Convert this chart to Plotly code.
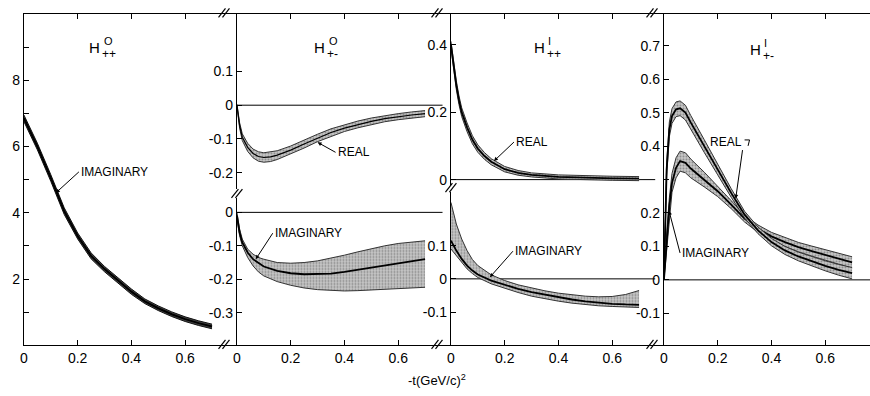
import plotly.graph_objects as go

# ---------------- data ----------------
# Panel 1: H0_{++}  imaginary part
t_p1 = [0, 0.05, 0.1, 0.15, 0.2, 0.25, 0.3, 0.35, 0.4, 0.45, 0.5, 0.55, 0.6, 0.65, 0.7]
h0pp_im = [6.85, 6.0, 5.05, 4.05, 3.3, 2.7, 2.3, 1.95, 1.62, 1.33, 1.12, 0.94, 0.79, 0.67, 0.57]
h0pp_im_err = [0.1, 0.1, 0.1, 0.1, 0.09, 0.09, 0.08, 0.08, 0.08, 0.07, 0.07, 0.07, 0.07, 0.07, 0.07]

# Panel 2 top: H0_{+-} real part
t_p2r = [0, 0.01, 0.02, 0.04, 0.06, 0.08, 0.1, 0.125, 0.15, 0.2, 0.25, 0.3, 0.35, 0.4, 0.45, 0.5, 0.55, 0.6, 0.65, 0.7]
h0pm_re = [0.0, -0.06, -0.095, -0.125, -0.143, -0.152, -0.155, -0.153, -0.148, -0.133, -0.115, -0.097,
           -0.081, -0.068, -0.057, -0.048, -0.04, -0.034, -0.029, -0.025]
h0pm_re_err = [0.003, 0.008, 0.01, 0.012, 0.013, 0.014, 0.014, 0.014, 0.013, 0.012, 0.012, 0.011,
               0.011, 0.01, 0.01, 0.01, 0.009, 0.009, 0.009, 0.009]

# Panel 2 bottom: H0_{+-} imaginary part
t_p2i = [0, 0.01, 0.02, 0.04, 0.06, 0.08, 0.1, 0.15, 0.2, 0.25, 0.3, 0.35, 0.4, 0.45, 0.5, 0.55, 0.6, 0.65, 0.7]
h0pm_im = [-0.01, -0.06, -0.09, -0.12, -0.14, -0.152, -0.162, -0.175, -0.182, -0.185, -0.185, -0.183,
           -0.178, -0.172, -0.166, -0.16, -0.153, -0.146, -0.14]
h0pm_im_hi = [0.0, -0.05, -0.08, -0.11, -0.125, -0.135, -0.14, -0.15, -0.152, -0.15, -0.145, -0.137,
              -0.128, -0.118, -0.108, -0.1, -0.093, -0.088, -0.085]
h0pm_im_lo = [-0.02, -0.07, -0.1, -0.135, -0.16, -0.178, -0.19, -0.207, -0.218, -0.226, -0.231, -0.234,
              -0.235, -0.234, -0.232, -0.23, -0.228, -0.226, -0.224]

# Panel 3 top: H1_{++} real part
t_p3r = [0, 0.01, 0.02, 0.03, 0.04, 0.06, 0.08, 0.1, 0.125, 0.15, 0.2, 0.25, 0.3, 0.4, 0.5, 0.6, 0.7]
h1pp_re = [0.40, 0.335, 0.28, 0.235, 0.20, 0.155, 0.118, 0.092, 0.07, 0.053, 0.031, 0.02, 0.014,
           0.008, 0.005, 0.004, 0.003]
h1pp_re_err = [0.01, 0.012, 0.013, 0.013, 0.013, 0.013, 0.012, 0.011, 0.01, 0.009, 0.008, 0.007,
               0.006, 0.006, 0.006, 0.006, 0.006]

# Panel 3 bottom: H1_{++} imaginary part
t_p3i = [0, 0.02, 0.04, 0.06, 0.08, 0.1, 0.15, 0.2, 0.25, 0.3, 0.35, 0.4, 0.45, 0.5, 0.55, 0.6, 0.65, 0.7]
h1pp_im = [0.115, 0.085, 0.06, 0.04, 0.025, 0.013, -0.005, -0.018, -0.03, -0.04, -0.048, -0.055,
           -0.062, -0.068, -0.072, -0.075, -0.077, -0.078]
h1pp_im_hi = [0.23, 0.165, 0.12, 0.085, 0.058, 0.04, 0.012, -0.005, -0.018, -0.028, -0.036, -0.043,
              -0.048, -0.052, -0.054, -0.053, -0.047, -0.035]
h1pp_im_lo = [0.09, 0.07, 0.048, 0.03, 0.016, 0.004, -0.015, -0.029, -0.041, -0.052, -0.06, -0.067,
              -0.073, -0.078, -0.081, -0.083, -0.085, -0.086]

# Panel 4: H1_{+-} real and imaginary parts
t_p4 = [0, 0.005, 0.01, 0.02, 0.03, 0.045, 0.06, 0.08, 0.1, 0.15, 0.2, 0.25, 0.3, 0.35, 0.4, 0.45,
        0.5, 0.55, 0.6, 0.65, 0.7]
h1pm_re = [0.0, 0.2, 0.33, 0.45, 0.49, 0.51, 0.513, 0.5, 0.47, 0.4, 0.33, 0.26, 0.195, 0.148, 0.113,
           0.088, 0.07, 0.055, 0.042, 0.03, 0.02]
h1pm_re_err = [0.0, 0.015, 0.02, 0.022, 0.022, 0.022, 0.022, 0.022, 0.021, 0.019, 0.016, 0.013, 0.01,
               0.01, 0.011, 0.012, 0.013, 0.014, 0.015, 0.016, 0.017]
h1pm_im = [0.0, 0.06, 0.12, 0.22, 0.29, 0.335, 0.355, 0.35, 0.333, 0.3, 0.265, 0.225, 0.183, 0.153,
           0.13, 0.113, 0.098, 0.086, 0.074, 0.063, 0.052]
h1pm_im_err = [0.0, 0.015, 0.02, 0.025, 0.028, 0.03, 0.03, 0.03, 0.028, 0.022, 0.016, 0.012, 0.01,
               0.011, 0.012, 0.013, 0.014, 0.015, 0.016, 0.016, 0.017]

# ticks
x_ticks = [0, 0.2, 0.4, 0.6]
x_ticktext = ["0", "0.2", "0.4", "0.6"]
y1_ticks = [2, 4, 6, 8]
y1_text = ["2", "4", "6", "8"]
y1_minor = [1, 3, 5, 7, 9]
y2_ticks = [0.1, 0, -0.1, -0.2]
y2_text = ["0.1", "0", "-0.1", "-0.2"]
y3_ticks = [0, -0.1, -0.2, -0.3]
y3_text = ["0", "-0.1", "-0.2", "-0.3"]
y4_ticks = [0.4, 0.2, 0]
y4_text = ["0.4", "0.2", "0"]
y5_ticks = [0.1, 0, -0.1]
y5_text = ["0.1", "0", "-0.1"]
y6_ticks = [0.7, 0.6, 0.5, 0.4, 0.2, 0.1, 0, -0.1]
y6_text = ["0.7", "0.6", "0.5", "0.4", "0.2", "0.1", "0", "-0.1"]
y6_minor = [0.3]

# ---------------- figure ----------------
W, H = 870, 396
FONT = "Liberation Sans, Arial, sans-serif"


def px(x):
    return x / W


def py(y):
    return 1 - y / H


fig = go.Figure()

STIP = dict(shape=".", bgcolor="#c8c8c8", fgcolor="#4a4a4a", size=3, solidity=0.35)


def band(t, lo, hi, center, xa, ya, edge="#333", cw=1.8, dark=False):
    fig.add_trace(go.Scatter(x=t, y=hi, xaxis=xa, yaxis=ya, mode="lines",
                             line=dict(color=edge, width=1), hoverinfo="skip", showlegend=False))
    kw = dict(fill="tonexty")
    if dark:
        kw["fillcolor"] = "#444"
    else:
        kw["fillcolor"] = "#c8c8c8"
        kw["fillpattern"] = STIP
    fig.add_trace(go.Scatter(x=t, y=lo, xaxis=xa, yaxis=ya, mode="lines",
                             line=dict(color=edge, width=1), hoverinfo="skip", showlegend=False, **kw))
    fig.add_trace(go.Scatter(x=t, y=center, xaxis=xa, yaxis=ya, mode="lines",
                             line=dict(color="black", width=cw), hoverinfo="skip", showlegend=False))


def plus(a, b):
    return [u + v for u, v in zip(a, b)]


def minus(a, b):
    return [u - v for u, v in zip(a, b)]


band(t_p1, minus(h0pp_im, h0pp_im_err), plus(h0pp_im, h0pp_im_err), h0pp_im, "x", "y", edge="#111", cw=2, dark=True)
band(t_p2r, minus(h0pm_re, h0pm_re_err), plus(h0pm_re, h0pm_re_err), h0pm_re, "x5", "y2", cw=1.2)
band(t_p2i, h0pm_im_lo, h0pm_im_hi, h0pm_im, "x2", "y3")
band(t_p3r, minus(h1pp_re, h1pp_re_err), plus(h1pp_re, h1pp_re_err), h1pp_re, "x6", "y4")
band(t_p3i, h1pp_im_lo, h1pp_im_hi, h1pp_im, "x3", "y5")
band(t_p4, minus(h1pm_im, h1pm_im_err), plus(h1pm_im, h1pm_im_err), h1pm_im, "x4", "y6")
band(t_p4, minus(h1pm_re, h1pm_re_err), plus(h1pm_re, h1pm_re_err), h1pm_re, "x4", "y6")

# ---------------- axes ----------------
AX = dict(showline=True, linecolor="black", linewidth=1.3, ticks="inside", ticklen=5,
          tickcolor="black", tickwidth=1.2, showgrid=False, zeroline=False,
          tickfont=dict(family=FONT, size=14, color="black"), fixedrange=True)

L = [20, 234, 449, 663, 870]
YT, YB = 14, 348
MINOR = dict(ticks="inside", ticklen=5, tickcolor="black", tickwidth=1.2, showgrid=False)

lay = dict(
    xaxis=dict(AX, domain=[px(L[0]), px(L[1])], range=[0, (L[1] - L[0]) / 270], anchor="y",
               tickvals=x_ticks, ticktext=x_ticktext, mirror="ticks"),
    xaxis2=dict(AX, domain=[px(L[1]), px(L[2])], range=[0, (L[2] - L[1]) / 270], anchor="y3",
                tickvals=x_ticks, ticktext=x_ticktext),
    xaxis5=dict(AX, domain=[px(L[1]), px(L[2])], range=[0, (L[2] - L[1]) / 270], anchor="y2",
                side="top", tickvals=x_ticks, showticklabels=False),
    xaxis3=dict(AX, domain=[px(L[2]), px(L[3])], range=[0, (L[3] - L[2]) / 270], anchor="y5",
                tickvals=x_ticks, ticktext=x_ticktext),
    xaxis6=dict(AX, domain=[px(L[2]), px(L[3])], range=[0, (L[3] - L[2]) / 270], anchor="y4",
                side="top", tickvals=x_ticks, showticklabels=False),
    xaxis4=dict(AX, domain=[px(L[3]), 1], range=[0, (L[4] - L[3]) / 270], anchor="y6",
                tickvals=x_ticks, ticktext=x_ticktext, mirror="ticks"),
    yaxis=dict(AX, domain=[py(YB), py(YT)], range=[0, 10], anchor="x",
               tickvals=y1_ticks, ticktext=y1_text, minor=dict(MINOR, tickvals=y1_minor)),
    yaxis2=dict(AX, domain=[py(190), py(YT)], range=[-(190 - 106) / 340, (106 - YT) / 340], anchor="x5",
                tickvals=y2_ticks, ticktext=y2_text),
    yaxis3=dict(AX, domain=[py(YB), py(200)], range=[-(YB - 214) / 337, (214 - 200) / 337], anchor="x2",
                tickvals=y3_ticks, ticktext=y3_text),
    yaxis4=dict(AX, domain=[py(186), py(YT)], range=[-(186 - 181) / 340, (181 - YT) / 340], anchor="x6",
                tickvals=y4_ticks, ticktext=y4_text),
    yaxis5=dict(AX, domain=[py(YB), py(193)], range=[-(YB - 281) / 335, (281 - 193) / 335], anchor="x3",
                tickvals=y5_ticks, ticktext=y5_text),
    yaxis6=dict(AX, domain=[py(YB), py(YT)], range=[-(YB - 282) / 337, (282 - YT) / 337], anchor="x4",
                tickvals=y6_ticks, ticktext=y6_text, minor=dict(MINOR, tickvals=y6_minor)),
)

shapes = []
# zero lines
for xa, ya, x1 in [("x5", "y2", 0.765), ("x2", "y3", 0.765), ("x6", "y4", 0.76), ("x3", "y5", 0.76),
                   ("x4", "y6", 0.767)]:
    shapes.append(dict(type="line", xref=xa, yref=ya, x0=0, x1=x1, y0=0, y1=0, layer="below",
                       line=dict(color="black", width=1)))


def brk(cx, cy):
    for k in (-2, 2):
        shapes.append(dict(type="line", xref="paper", yref="paper",
                           x0=px(cx + k - 3.5), y0=py(cy + 4.5), x1=px(cx + k + 3.5), y1=py(cy - 4.5),
                           line=dict(color="black", width=1.2)))


for cx in (221, 435, 651):
    brk(cx, 13)
    brk(cx, 347)
brk(234, 195)
brk(449, 189)
# hook at the end of the REAL label in panel 4
shapes.append(dict(type="line", xref="paper", yref="paper", x0=px(744), y0=py(141), x1=px(749),
                   y1=py(141), line=dict(color="black", width=1)))
shapes.append(dict(type="line", xref="paper", yref="paper", x0=px(749), y0=py(141), x1=px(747.5),
                   y1=py(147), line=dict(color="black", width=1)))

ann = []
LBL = dict(family=FONT, size=12, color="black")


def label(text, xa, ya, x, y, ax, ay, anchor="left"):
    # text placed at the arrow tail; arrow runs from the text to the curve point (x, y)
    ann.append(dict(text=text, xref=xa, yref=ya, x=x, y=y, ax=ax, ay=ay, showarrow=True,
                    xanchor=anchor, yanchor="middle", arrowhead=2, arrowsize=0.8, arrowwidth=1,
                    arrowcolor="black", standoff=0, startstandoff=0, borderpad=1, font=LBL))


label("IMAGINARY", "x", "y", 0.119, 4.6, 23, -21)
label("REAL", "x5", "y2", 0.3, -0.11, 18, 10)
label("IMAGINARY", "x2", "y3", 0.07, -0.14, 17, -26)
label("REAL", "x6", "y4", 0.16, 0.055, 20, -19)
label("IMAGINARY", "x3", "y5", 0.145, 0.005, 23, -26)
label("REAL", "x4", "y6", 0.267, 0.243, 8, -57, anchor="right")
label("IMAGINARY", "x4", "y6", 0.019, 0.206, 11, 42)


# panel titles H^a_bc
def title(hx, hy, sup, sub):
    ann.append(dict(text="H", xref="paper", yref="paper", x=px(hx), y=py(hy), showarrow=False,
                    xanchor="center", yanchor="middle", font=dict(family=FONT, size=15, color="black")))
    ann.append(dict(text=sup, xref="paper", yref="paper", x=px(hx + 7), y=py(hy - 7), showarrow=False,
                    xanchor="left", yanchor="middle", font=dict(family=FONT, size=11, color="black")))
    ann.append(dict(text=sub, xref="paper", yref="paper", x=px(hx + 5), y=py(hy + 6), showarrow=False,
                    xanchor="left", yanchor="middle", font=dict(family=FONT, size=12, color="black")))


title(91, 48, "O", "++")
title(317, 48, "O", "+-")
title(538, 48, "I", "++")
title(755, 50, "I", "+-")

ann.append(dict(text="-t(GeV/c)<sup>2</sup>", xref="paper", yref="paper", x=px(435), y=py(383),
                showarrow=False, xanchor="center", yanchor="middle",
                font=dict(family=FONT, size=13, color="black")))

fig.update_layout(**lay)
fig.update_layout(width=W, height=H, margin=dict(l=0, r=0, t=0, b=0), paper_bgcolor="white",
                  plot_bgcolor="white", showlegend=False, shapes=shapes, annotations=ann,
                  font=dict(family=FONT, color="black"))

fig.write_html("out.html", config={"displayModeBar": False})
